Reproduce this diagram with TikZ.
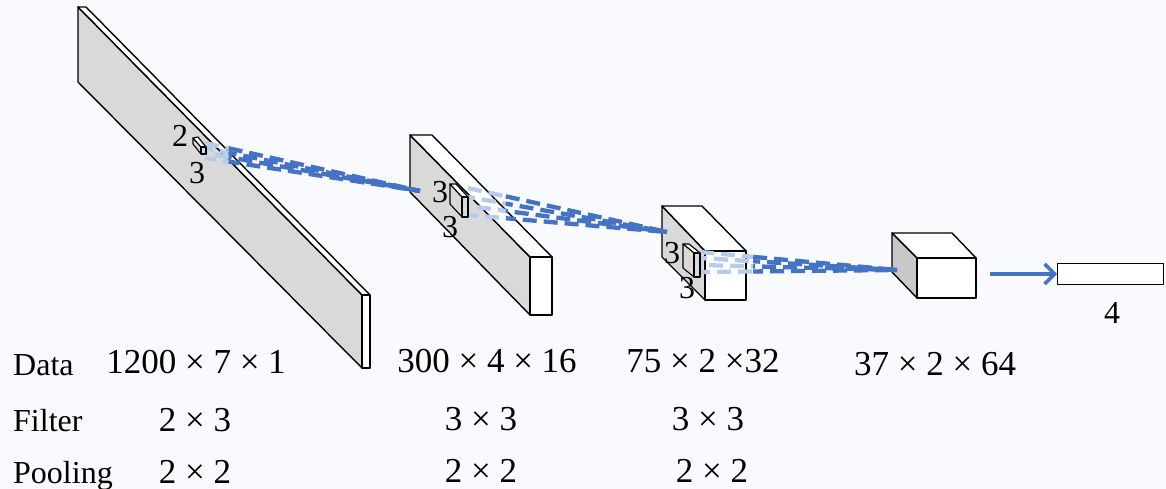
\documentclass[tikz,border=0pt]{standalone}
\usepackage{fontspec}
\setmainfont{Liberation Serif}
\usetikzlibrary{calc,arrows.meta}
\definecolor{bgc}{RGB}{248,250,253}
\definecolor{greyf}{RGB}{217,217,217}
\definecolor{greyd}{RGB}{200,200,200}
\definecolor{bdark}{RGB}{68,114,196}
\definecolor{blight}{RGB}{185,203,234}
\begin{document}
\begin{tikzpicture}[x=1pt,y=-1pt,line join=round,
  face/.style={draw=black,line width=1.4pt,fill=greyf},
  dface/.style={draw=black,line width=1.4pt,fill=greyd},
  wface/.style={draw=black,line width=1.4pt,fill=white},
  dk/.style={draw=bdark,line width=4.3pt},
  lt/.style={draw=blight,line width=4.3pt},
  lbl/.style={font=\fontsize{32}{38}\selectfont,inner sep=0pt},
  num/.style={font=\fontsize{35}{42}\selectfont,inner sep=0pt}]
\useasboundingbox (0,0) rectangle (1166,489);
\fill[bgc] (0,0) rectangle (1166,489);

% ---- slab 1
\draw[face]  (78,7) -- (362,295) -- (362,368) -- (78,82) -- cycle;
\draw[wface] (78,7) -- (86,7) -- (370,295) -- (362,295) -- cycle;
\draw[wface] (362,295) rectangle (370,368);

% ---- slab 2
\draw[face]  (410,135) -- (530,257) -- (530,315) -- (410,192) -- cycle;
\draw[wface] (410,135) -- (432,135) -- (552,257) -- (530,257) -- cycle;
\draw[wface] (530,257) rectangle (552,315);

% ---- slab 3
\draw[face]  (662,206) -- (705,251) -- (705,300) -- (662,257) -- cycle;
\draw[wface] (662,206) -- (702,206) -- (746,251) -- (705,251) -- cycle;
\draw[wface] (705,251) rectangle (746,300);

% ---- box 4
\draw[dface] (892,233) -- (917,258) -- (917,298) -- (892,272) -- cycle;
\draw[wface] (892,233) -- (952,233) -- (976,258) -- (917,258) -- cycle;
\node[wface,minimum width=59pt,minimum height=40pt,inner sep=0pt] (box4) at (946.5,278) {};

% ---- output layer
\node[draw=black,line width=1.4pt,fill=white,minimum width=106pt,minimum height=21pt,inner sep=0pt,anchor=west] (out) at (1057,274) {};
\coordinate (arrs) at (990,274);
\draw[bdark,line width=3.5pt,-{Straight Barb[length=10pt,width=20pt,line width=3.5pt]}] (arrs) -- (out.west);

% ---- convergence points
\coordinate (eA) at (420,191);
\coordinate (eB) at (667,232);
\coordinate (eC) at (897,270);

% ---- dashed lines A
\foreach \i/\y/\ph in {1/143/0,2/148/6,3/153/11,4/158/3}{
  \coordinate (sA\i) at (205,\y);
  \draw[lt,dash pattern=on 14pt off 7pt,dash phase=\ph pt] (sA\i) -- ($(sA\i)!0.11!(eA)$);
  \draw[dk,dash pattern=on 14pt off 7pt,dash phase=\ph pt] ($(sA\i)!0.11!(eA)$) -- (eA);
}
% ---- dashed lines B
\foreach \i/\y/\ph in {1/188/0,2/197/7,3/206/12,4/215/4}{
  \coordinate (sB\i) at (468,\y);
  \draw[lt,dash pattern=on 14pt off 7pt,dash phase=\ph pt] (sB\i) -- ($(sB\i)!0.19!(eB)$);
  \draw[dk,dash pattern=on 14pt off 7pt,dash phase=\ph pt] ($(sB\i)!0.19!(eB)$) -- (eB);
}
% ---- dashed lines C
\foreach \i/\y/\ph in {1/252/0,2/258/7,3/265/12,4/272/4}{
  \coordinate (sC\i) at (700,\y);
  \draw[lt,dash pattern=on 14pt off 7pt,dash phase=\ph pt] (sC\i) -- ($(sC\i)!0.27!(eC)$);
  \draw[dk,dash pattern=on 14pt off 7pt,dash phase=\ph pt] ($(sC\i)!0.27!(eC)$) -- (eC);
}

% ---- small filter boxes
\draw[face,line width=1.1pt]  (193,138) -- (201,147) -- (201,154) -- (193,144) -- cycle;
\draw[wface,line width=1.1pt] (193,138) -- (198,137) -- (206,147) -- (201,147) -- cycle;
\draw[face,line width=1.1pt] (201,147) rectangle (206,154);

\draw[face,line width=1.1pt]  (450,184) -- (462,197) -- (462,217) -- (450,204) -- cycle;
\draw[wface,line width=1.1pt] (450,184) -- (456,184) -- (468,197) -- (462,197) -- cycle;
\draw[face,line width=1.1pt] (462,197) rectangle (468,217);

\draw[wface,line width=1.1pt] (683,244) -- (689,244) -- (700,253) -- (694,253) -- cycle;
\draw[face,line width=1.1pt]  (683,244) -- (694,253) -- (694,277) -- (683,268) -- cycle;
\draw[face,line width=1.1pt] (694,253) rectangle (700,277);

% ---- filter labels
\node[lbl,anchor=base] (k1a) at (180,147) {2};
\node[lbl,anchor=base] (k1b) at (197,183) {3};
\node[lbl,anchor=base] (k2a) at (440,202) {3};
\node[lbl,anchor=base] (k2b) at (450,237) {3};
\node[lbl,anchor=base] (k3a) at (672,263) {3};
\node[lbl,anchor=base] (k3b) at (687,298) {3};
\node[lbl,anchor=base] (k4) at (1112,323) {4};

% ---- table
\node[lbl,anchor=base west] (rdata) at (13,375) {Data};
\node[lbl,anchor=base west] (rfilt) at (13,431) {Filter};
\node[lbl,anchor=base west] (rpool) at (13,483) {Pooling};

\node[num,anchor=base] (n1) at (196,373) {1200 × 7 × 1};
\node[num,anchor=base] (f1) at (195,431) {2 × 3};
\node[num,anchor=base] (p1) at (195,483) {2 × 2};
\node[num,anchor=base] (n2) at (487,372) {300 × 4 × 16};
\node[num,anchor=base] (f2) at (481,430) {3 × 3};
\node[num,anchor=base] (p2) at (481,482) {2 × 2};
\node[num,anchor=base] (n3) at (703,372) {75 × 2 ×32};
\node[num,anchor=base] (f3) at (708,430) {3 × 3};
\node[num,anchor=base] (p3) at (712,482) {2 × 2};
\node[num,anchor=base] (n4) at (935,375) {37 × 2 × 64};
\end{tikzpicture}
\end{document}
